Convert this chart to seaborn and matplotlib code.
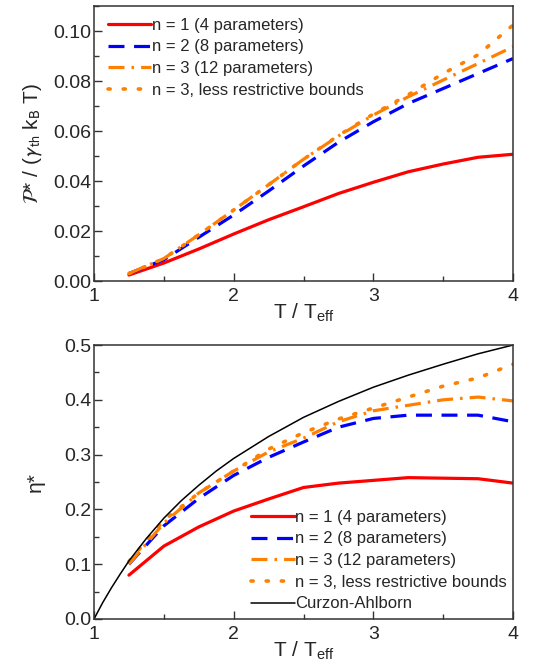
import numpy as np
import pandas as pd
import seaborn as sns
import matplotlib.pyplot as plt
from matplotlib.ticker import MultipleLocator

# reduced temperature grid used by the fits
t_ratio = [1.25, 1.5, 1.75, 2.0, 2.25, 2.5, 2.75, 3.0, 3.25, 3.5, 3.75, 4.0]

# max power P* / (gamma_th kB T)
power_n1 = [0.0024, 0.0072, 0.0128, 0.0188, 0.0245, 0.0297, 0.0350, 0.0395, 0.0437, 0.0468, 0.0495, 0.0507]
power_n2 = [0.0030, 0.0085, 0.0175, 0.0264, 0.0360, 0.0460, 0.0555, 0.0637, 0.0710, 0.0770, 0.0830, 0.0890]
power_n3 = [0.0030, 0.0090, 0.0185, 0.0284, 0.0385, 0.0487, 0.0580, 0.0664, 0.0737, 0.0804, 0.0870, 0.0937]
power_n3_loose = [0.0030, 0.0090, 0.0185, 0.0284, 0.0385, 0.0487, 0.0582, 0.0668, 0.0745, 0.0830, 0.0905, 0.1024]

# efficiency at max power
eta_n1 = [0.080, 0.133, 0.168, 0.197, 0.219, 0.240, 0.248, 0.253, 0.258, 0.257, 0.256, 0.248]
eta_n2 = [0.100, 0.170, 0.220, 0.262, 0.295, 0.323, 0.350, 0.366, 0.372, 0.372, 0.372, 0.360]
eta_n3 = [0.100, 0.175, 0.230, 0.270, 0.305, 0.330, 0.360, 0.380, 0.390, 0.400, 0.405, 0.398]
eta_n3_loose = [0.105, 0.180, 0.230, 0.270, 0.310, 0.340, 0.365, 0.385, 0.405, 0.425, 0.440, 0.465]

# Curzon-Ahlborn reference curve
ca_t = [1.0, 1.0625, 1.125, 1.1875, 1.25, 1.375, 1.5, 1.625, 1.75, 1.875, 2.0, 2.25, 2.5, 2.75, 3.0, 3.25, 3.5, 3.75, 4.0]
ca_eta = [0.0, 0.030, 0.057, 0.082, 0.106, 0.147, 0.184, 0.216, 0.244, 0.270, 0.293, 0.333, 0.368, 0.397, 0.423, 0.445, 0.465, 0.484, 0.500]

labels = ['n = 1 (4 parameters)', 'n = 2 (8 parameters)',
          'n = 3 (12 parameters)', 'n = 3, less restrictive bounds']

sns.set_style('ticks')
plt.rcParams['font.family'] = ['Liberation Sans', 'DejaVu Sans']
plt.rcParams['mathtext.fontset'] = 'custom'
plt.rcParams['mathtext.rm'] = 'Liberation Sans'
plt.rcParams['mathtext.it'] = 'Liberation Sans:italic'
plt.rcParams['axes.edgecolor'] = '#333333'

red = '#ff0000'
blue = '#0000ff'
orange = '#ff8000'
styles = [
    dict(color=red, linestyle='-', lw=2.3),
    dict(color=blue, linestyle=(0, (5, 3)), lw=2.3),
    dict(color=orange, linestyle=(0, (5, 2.2, 0.8, 2.2)), lw=2.3),
    dict(color=orange, linestyle=(0, (0.6, 3.6)), lw=2.6, dash_capstyle='round'),
]

fig = plt.figure(figsize=(5.54, 6.71), dpi=100)
ax1 = fig.add_axes([0.1697, 0.5812, 0.7563, 0.4098])
ax2 = fig.add_axes([0.1697, 0.0775, 0.7563, 0.4083])

top_series = [power_n1, power_n2, power_n3, power_n3_loose]
bot_series = [eta_n1, eta_n2, eta_n3, eta_n3_loose]
for ys, lab, st in zip(top_series, labels, styles):
    sns.lineplot(x=t_ratio, y=ys, label=lab, ax=ax1, **st)
for ys, lab, st in zip(bot_series, labels, styles):
    sns.lineplot(x=t_ratio, y=ys, label=lab, ax=ax2, **st)
sns.lineplot(x=ca_t, y=ca_eta, label='Curzon-Ahlborn', ax=ax2, color='black', lw=1.1)

for ax in (ax1, ax2):
    ax.set_xlim(1, 4)
    ax.xaxis.set_major_locator(MultipleLocator(1))
    ax.xaxis.set_minor_locator(MultipleLocator(0.5))
    ax.tick_params(which='both', direction='in', top=False, right=False,
                   labelsize=14, color='#333333')
    ax.tick_params(which='major', length=6, width=1)
    ax.tick_params(which='minor', length=3.5, width=1)
    ax.tick_params(axis='y', pad=2)
    ax.tick_params(axis='x', pad=5)
    for sp in ax.spines.values():
        sp.set_linewidth(1.1)
    ax.set_xlabel('T / T$_{\\mathrm{eff}}$', fontsize=15, labelpad=-2)

ax1.set_ylim(0, 0.11)
ax1.yaxis.set_major_locator(MultipleLocator(0.02))
ax1.yaxis.set_minor_locator(MultipleLocator(0.01))
ax1.yaxis.set_major_formatter(plt.FormatStrFormatter('%.2f'))
ax1.set_ylabel(r'$\mathcal{P}$* / ($\gamma_{\mathrm{th}}$ k$_{\mathrm{B}}$ T)',
               fontsize=15, labelpad=6, math_fontfamily='stixsans')

ax2.set_ylim(0, 0.5)
ax2.yaxis.set_major_locator(MultipleLocator(0.1))
ax2.yaxis.set_minor_locator(MultipleLocator(0.05))
ax2.yaxis.set_major_formatter(plt.FormatStrFormatter('%.1f'))
ax2.set_ylabel('η*', fontsize=15, labelpad=14)

ax1.legend(loc='upper left', frameon=False, fontsize=12, handlelength=2.6,
           handletextpad=0.05, labelspacing=0.4, borderaxespad=0.3,
           bbox_to_anchor=(0.005, 1.0))
ax2.legend(loc='lower right', frameon=False, fontsize=12, handlelength=2.6,
           handletextpad=0.05, labelspacing=0.4, borderaxespad=0.3,
           bbox_to_anchor=(1.014, -0.015))

fig.savefig('out.png', dpi=100)
